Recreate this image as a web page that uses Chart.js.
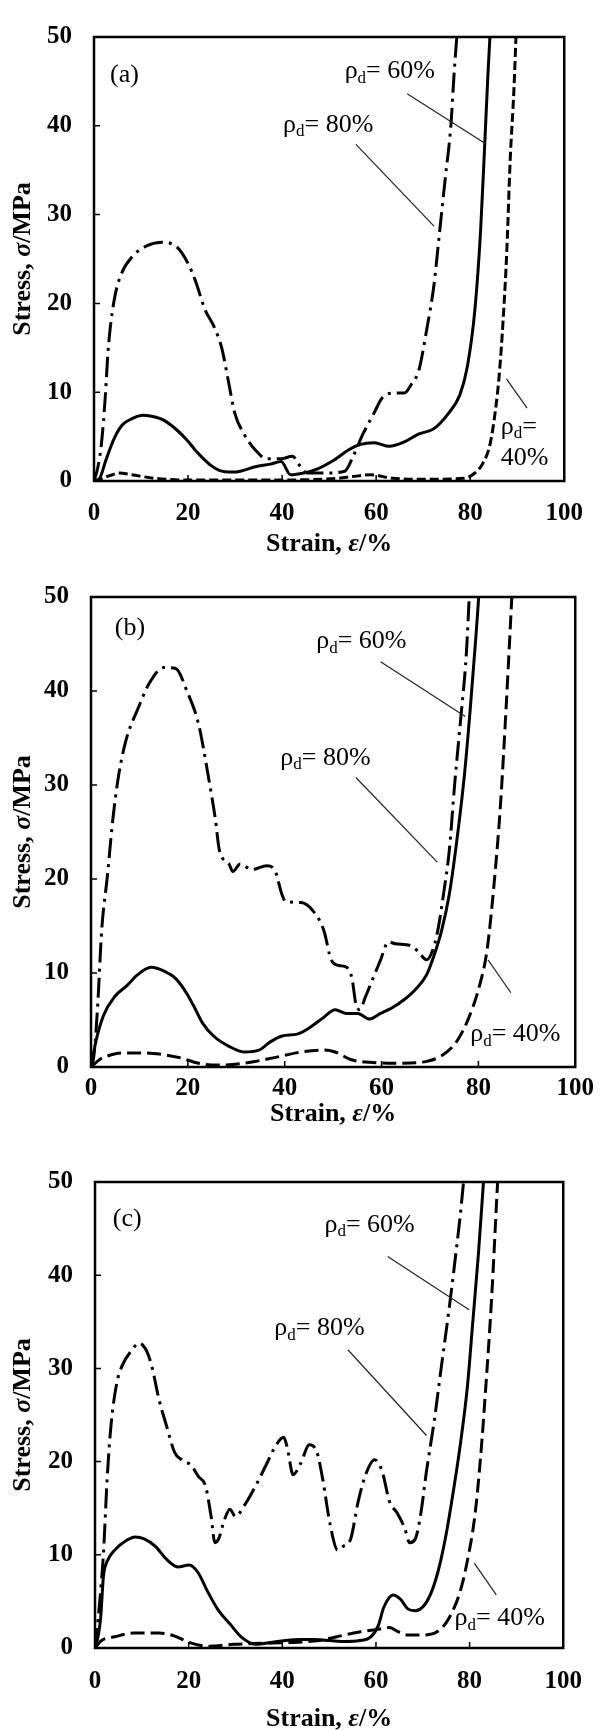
<!DOCTYPE html>
<html>
<head>
<meta charset="utf-8">
<script src="https://cdn.jsdelivr.net/npm/chart.js@4.4.1/dist/chart.umd.min.js"></script>
<style>
  body { margin: 0; background: #fff; }
  .painel { position: absolute; left: 0; width: 601px; }
</style>
</head>
<body>
<div class="painel" style="top:0px"><canvas id="chartA" width="601" height="560"></canvas></div>
<div class="painel" style="top:560px"><canvas id="chartB" width="601" height="580"></canvas></div>
<div class="painel" style="top:1140px"><canvas id="chartC" width="601" height="590"></canvas></div>
<script>
// ticks dos eixos
const xTicks = [0, 20, 40, 60, 80, 100]
const yTicks = [0, 10, 20, 30, 40, 50]

// painel (a) - deformacao (%) e tensao (MPa)
const a80x = [0, 0.8, 1.6, 2.4, 3.0, 4.2, 5.8, 8.2, 11.3, 14.5, 17.7, 20, 21.6, 23.6, 25.6, 27.2, 28.7, 29.9, 31.9, 34.3, 36.7, 39.8, 42.2, 43.8, 45.4, 49.3, 53.3, 55.2, 57.2, 59.6, 61.2, 63.6, 66, 67.5, 69.1, 70.7, 72.3, 73.5, 74.7, 75.9, 76.6, 77.3]
const a80y = [0, 1.5, 4.3, 9.5, 14.7, 20.1, 23.3, 25.3, 26.5, 26.9, 26.3, 24.5, 22.5, 19.3, 17.3, 14.9, 10.9, 7.7, 5.3, 3.5, 2.5, 2.5, 2.8, 1.7, 0.9, 0.9, 1.1, 2.9, 5.3, 7.7, 9.3, 9.9, 9.9, 10.9, 12.5, 16.9, 22.1, 28.1, 34.1, 40.1, 46.1, 51]
const a60x = [0, 1.2, 2.5, 4.3, 6, 8, 10.5, 13, 15, 17.5, 19.8, 21.5, 23.3, 25, 26.6, 29.5, 31.1, 34.3, 37.5, 39.8, 41.8, 44.6, 47.7, 50.9, 54.1, 56.5, 59.6, 62.8, 66, 69.1, 72.3, 75.5, 77.8, 79.4, 81, 82.2, 83, 83.8, 84.3]
const a60y = [0, 0.3, 2.3, 4.8, 6.3, 7.0, 7.4, 7.2, 6.8, 5.8, 4.6, 3.5, 2.5, 1.7, 1.2, 1.0, 1.1, 1.6, 1.9, 2.2, 0.7, 0.9, 1.4, 2.3, 3.5, 4.1, 4.3, 3.9, 4.4, 5.3, 5.9, 7.7, 9.7, 12.9, 19.3, 28.1, 36.9, 46.1, 51]
const a40x = [0, 1.8, 3.3, 5.4, 8, 13, 20, 35.9, 51.7, 55, 58.8, 63.6, 71.5, 78.6, 81, 82.6, 84.2, 85.4, 86.2, 87, 87.8, 88.5, 89.3, 89.8]
const a40y = [0, 0.3, 0.6, 0.9, 0.7, 0.3, 0.1, 0.1, 0.3, 0.5, 0.7, 0.3, 0.2, 0.3, 0.9, 1.9, 4.1, 8.1, 12.1, 18.1, 26.1, 36.1, 44.1, 51]

// painel (b)
const b80x = [0, 0.6, 1.4, 2.2, 3.4, 4.5, 5.7, 7.3, 9.6, 12, 15.1, 17.5, 19.8, 22.2, 24.2, 25.7, 26.5, 28.5, 29.3, 30.8, 33.2, 36.3, 37.9, 39.4, 40.2, 43.4, 45.7, 48.1, 49.6, 51.2, 52.8, 53.9, 54.7, 55.5, 56.7, 58.2, 59.8, 61.4, 63, 66.1, 67.7, 69.3, 70.4, 71.6, 72.8, 74, 75.1, 76.3, 77.5, 78.2]
const b80y = [0, 1.2, 6.7, 14.5, 20.4, 26.3, 31, 34.9, 38, 40.8, 42.5, 42.4, 40, 36.5, 31, 26.3, 23.1, 21.6, 20.8, 21.6, 21, 21.4, 21, 18.4, 17.6, 17.5, 16.7, 14.5, 11.4, 10.8, 10.6, 9.4, 6.7, 6.1, 7.5, 9.4, 11.4, 13.3, 13.1, 12.9, 12.2, 11.4, 12.2, 14.5, 18.4, 23.1, 30.1, 36.8, 43.9, 51]
const b60x = [0, 1, 2.6, 4.9, 7.3, 9.6, 12.4, 15.1, 17.5, 19.8, 21.4, 23, 25.3, 28.5, 31.6, 34.7, 37.1, 39.5, 42.6, 44.9, 48.1, 50.4, 52.8, 55.1, 57.5, 59.8, 62.2, 64.5, 66.9, 69.3, 70.8, 72.4, 74, 75.5, 77.1, 78.3, 79.5, 80.2]
const b60y = [0, 2.7, 5.5, 7.5, 8.6, 9.8, 10.6, 10.2, 9.4, 7.8, 6.3, 4.7, 3.3, 2.2, 1.6, 1.8, 2.7, 3.3, 3.5, 4.1, 5.3, 6.1, 5.7, 5.7, 5.1, 5.7, 6.3, 7.1, 8.2, 9.8, 11.8, 14.5, 18.4, 23.9, 31, 38, 45.9, 51]
const b40x = [0, 1.8, 4.2, 6.5, 11.2, 15.1, 18.3, 22.2, 26.1, 31.6, 37.9, 43.4, 48.1, 50.4, 53.6, 57.5, 63.8, 69.3, 72.4, 75.5, 77.9, 80.2, 81.8, 83.4, 84.6, 85.7, 86.5, 87]
const b40y = [0, 0.8, 1.3, 1.5, 1.5, 1.3, 1, 0.4, 0.2, 0.4, 1, 1.6, 1.8, 1.6, 0.8, 0.5, 0.4, 0.6, 1.2, 2.7, 5.1, 8.6, 12.5, 20.4, 28.2, 38, 45.9, 51]

// painel (c)
const c80x = [0, 0.2, 1.2, 1.8, 2.6, 3.4, 4.6, 5.8, 7.8, 9.4, 11, 12.1, 13.7, 15.3, 17, 18.5, 20.5, 22.1, 23.6, 24.8, 25.6, 26.4, 27.6, 28.8, 30, 31.9, 34.3, 36.7, 38.7, 40.3, 41.1, 42.3, 43.9, 45.8, 47.4, 48.6, 50.2, 51.8, 53, 54.6, 56.2, 57.8, 59.7, 61.3, 62.9, 64.5, 66.1, 67.2, 68.4, 69.6, 70.8, 72.4, 74, 75.6, 76.8, 78, 78.9]
const c80y = [0, 0.8, 6.1, 10.1, 18.2, 23.8, 28.3, 30.3, 31.9, 32.7, 31.9, 30.3, 26.6, 23.8, 21, 20.2, 19.6, 18.4, 17.4, 14.1, 11.3, 11.7, 13.7, 14.9, 14.1, 15.3, 17.4, 19.8, 21.8, 22.6, 21.4, 18.6, 19.8, 21.8, 21, 18.2, 13.3, 10.5, 10.9, 11.7, 15.7, 18.6, 20.2, 19, 15.7, 14.5, 12.9, 11.3, 11.7, 14.5, 19, 24.2, 30.3, 36.3, 41.2, 46.4, 51]
const c60x = [0, 0.2, 1.2, 1.8, 2.6, 4.2, 6.6, 8.6, 10.5, 12.9, 15.3, 17.7, 20.1, 22, 24, 26.4, 28.8, 31.2, 34.3, 37.5, 40.7, 43.9, 47, 50.2, 53.4, 56.5, 58.9, 60.5, 61.7, 63.7, 65.3, 66.8, 68.4, 70, 71.6, 73.2, 74.8, 76.3, 77.9, 79.5, 80.7, 81.9, 83.1]
const c60y = [0, 0.2, 3.2, 7.7, 9.3, 10.5, 11.5, 11.9, 11.7, 10.9, 9.5, 8.7, 8.9, 8.1, 6.1, 4, 2.6, 1.2, 0.4, 0.6, 0.8, 0.9, 0.9, 0.8, 0.7, 0.8, 1.2, 2.4, 4.4, 5.7, 5.2, 4.2, 4, 4.4, 5.7, 8.1, 11.7, 16.1, 21.4, 27.9, 35.1, 42.4, 51]
const c40x = [0, 1.4, 4.2, 8.2, 13.7, 16.9, 20.1, 24, 29.6, 35.9, 42.3, 47.8, 53.4, 57.3, 60.5, 62.9, 64.5, 66.8, 70, 73.2, 75.6, 78, 79.5, 81.1, 82.3, 83.5, 84.7, 85.9, 86.1]
const c40y = [0, 0.8, 1.2, 1.6, 1.6, 1.3, 0.6, 0.2, 0.4, 0.5, 0.6, 0.8, 1.4, 1.8, 2, 2.2, 1.8, 1.4, 1.4, 1.8, 3.2, 6.1, 9.3, 14.1, 20.2, 28.3, 37.5, 49.2, 51]

const fonte = '"Liberation Serif", "Times New Roman", serif'

// desenha "ρd= 60%" com o d subscrito
function rotuloRho(ctx, px, py, resto) {
  ctx.font = '26px ' + fonte
  ctx.fillText('ρ', px, py)
  let w = ctx.measureText('ρ').width
  ctx.font = '17px ' + fonte
  ctx.fillText('d', px + w, py + 7)
  w += ctx.measureText('d').width
  ctx.font = '26px ' + fonte
  ctx.fillText(resto, px + w, py)
}

// escreve um titulo em partes (normal / italico), centrado em 0,0
function tituloPartes(ctx, partes) {
  let total = 0
  partes.forEach(p => {
    ctx.font = (p[1] ? 'italic ' : '') + 'bold 26px ' + fonte
    total += ctx.measureText(p[0]).width
  })
  let px = -total / 2
  partes.forEach(p => {
    ctx.font = (p[1] ? 'italic ' : '') + 'bold 26px ' + fonte
    ctx.fillText(p[0], px, 0)
    px += ctx.measureText(p[0]).width
  })
}

function graficoPainel(id, series, cfg) {
  // moldura, ticks para dentro, titulos e anotacoes
  const moldura = {
    id: 'moldura',
    afterDatasetsDraw(chart) {
      const { ctx, chartArea: a, scales: { x, y } } = chart
      ctx.save()
      ctx.strokeStyle = '#000'
      ctx.lineWidth = 2.5
      ctx.strokeRect(a.left, a.top, a.right - a.left, a.bottom - a.top)

      ctx.lineWidth = 1.5
      ctx.beginPath()
      xTicks.forEach(v => {
        const px = x.getPixelForValue(v)
        ctx.moveTo(px, a.bottom); ctx.lineTo(px, a.bottom - 6)
      })
      yTicks.forEach(v => {
        const py = y.getPixelForValue(v)
        ctx.moveTo(a.left, py); ctx.lineTo(a.left + 6, py)
      })
      ctx.stroke()

      // linhas de chamada
      ctx.strokeStyle = '#222'
      ctx.lineWidth = 1.2
      cfg.chamadas.forEach(c => {
        ctx.beginPath()
        ctx.moveTo(x.getPixelForValue(c[0]), y.getPixelForValue(c[1]))
        ctx.lineTo(x.getPixelForValue(c[2]), y.getPixelForValue(c[3]))
        ctx.stroke()
      })

      ctx.fillStyle = '#000'
      ctx.textBaseline = 'middle'
      ctx.textAlign = 'left'
      cfg.rotulos.forEach(r => {
        const px = x.getPixelForValue(r.x), py = y.getPixelForValue(r.y)
        if (r.rho) {
          rotuloRho(ctx, px, py, r.texto)
        } else {
          ctx.font = '26px ' + fonte
          ctx.fillText(r.texto, px, py)
        }
      })

      // titulos dos eixos com a letra grega em italico
      ctx.save()
      ctx.translate((a.left + a.right) / 2, cfg.xTitY)
      tituloPartes(ctx, [['Strain, ', false], ['ε', true], ['/%', false]])
      ctx.restore()
      ctx.save()
      ctx.translate(23, (a.top + a.bottom) / 2)
      ctx.rotate(-Math.PI / 2)
      tituloPartes(ctx, [['Stress, ', false], ['σ', true], ['/MPa', false]])
      ctx.restore()

      ctx.restore()
    }
  }

  return new Chart(id, {
    type: 'scatter',
    data: {
      datasets: series.map(s => ({
        data: s.xs.map((v, i) => ({ x: v, y: s.ys[i] })),
        showLine: true,
        borderColor: '#000',
        borderWidth: 3,
        borderDash: s.dash,
        pointRadius: 0,
        cubicInterpolationMode: 'monotone',
        fill: false
      }))
    },
    options: {
      responsive: false,
      animation: false,
      layout: { padding: { top: cfg.top, right: cfg.right, left: 0, bottom: 0 } },
      plugins: { legend: { display: false }, tooltip: { enabled: false } },
      scales: {
        x: {
          type: 'linear', min: 0, max: 100,
          afterBuildTicks: s => { s.ticks = xTicks.map(v => ({ value: v })) },
          grid: { display: false, drawTicks: false },
          border: { display: false },
          ticks: {
            color: '#000', padding: cfg.xPad, maxRotation: 0, autoSkip: false,
            font: { family: fonte, size: 25, weight: 'bold', lineHeight: 1.2 }
          },
          title: { display: false },
          afterFit: s => { s.height = cfg.xH }
        },
        y: {
          type: 'linear', min: 0, max: 50,
          afterBuildTicks: s => { s.ticks = yTicks.map(v => ({ value: v })) },
          grid: { display: false, drawTicks: false },
          border: { display: false },
          ticks: {
            color: '#000', padding: 22,
            font: { family: fonte, size: 25, weight: 'bold', lineHeight: 1.2 }
          },
          title: { display: false },
          afterFit: s => { s.width = cfg.yW }
        }
      }
    },
    plugins: [moldura]
  })
}

const traco = [20, 6, 3, 6]

graficoPainel('chartA', [
  { xs: a80x, ys: a80y, dash: traco },
  { xs: a60x, ys: a60y, dash: [] },
  { xs: a40x, ys: a40y, dash: [9, 4] }
], {
  top: 20, right: 22, yW: 94, xH: 79, xPad: 18, xTitY: 544,
  chamadas: [[66.6, 43.6, 83.2, 38.0], [55.7, 37.9, 72.3, 28.7], [87.7, 11.5, 92.1, 8.2]],
  rotulos: [
    { x: 3.4, y: 45.7, texto: '(a)' },
    { x: 53.3, y: 46.1, texto: '= 60%', rho: true },
    { x: 40.2, y: 40.1, texto: '= 80%', rho: true },
    { x: 86.5, y: 6.1, texto: '=', rho: true },
    { x: 86.5, y: 2.6, texto: '40%' }
  ]
})

graficoPainel('chartB', [
  { xs: b80x, ys: b80y, dash: traco },
  { xs: b60x, ys: b60y, dash: [] },
  { xs: b40x, ys: b40y, dash: [14, 6] }
], {
  top: 35, right: 21, yW: 91, xH: 73, xPad: 7, xTitY: 554,
  chamadas: [[59.8, 43.1, 77.3, 37.3], [54.7, 30.8, 71.5, 21.8], [82, 11.4, 86.7, 7.9]],
  rotulos: [
    { x: 4.9, y: 46.7, texto: '(b)' },
    { x: 46.5, y: 45.3, texto: '= 60%', rho: true },
    { x: 39.1, y: 32.9, texto: '= 80%', rho: true },
    { x: 78.3, y: 3.5, texto: '= 40%', rho: true }
  ]
})

graficoPainel('chartC', [
  { xs: c80x, ys: c80y, dash: traco },
  { xs: c60x, ys: c60y, dash: [] },
  { xs: c40x, ys: c40y, dash: [14, 6] }
], {
  top: 42, right: 22, yW: 95, xH: 82, xPad: 19, xTitY: 579,
  chamadas: [[62.5, 42, 79.9, 36.3], [54, 32, 70.8, 22.8], [81, 9.1, 85.7, 5.7]],
  rotulos: [
    { x: 3.8, y: 46, texto: '(c)' },
    { x: 49, y: 45.4, texto: '= 60%', rho: true },
    { x: 38.3, y: 34.3, texto: '= 80%', rho: true },
    { x: 76.8, y: 3.2, texto: '= 40%', rho: true }
  ]
})
</script>
</body>
</html>
